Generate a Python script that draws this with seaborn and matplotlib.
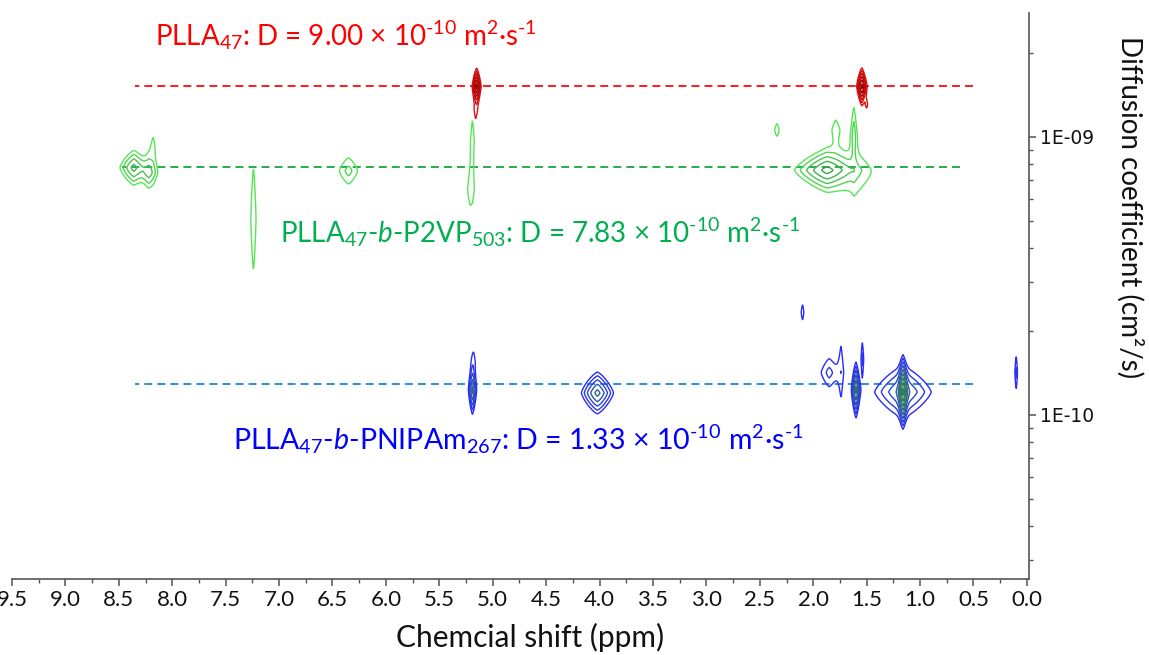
import numpy as np
import pandas as pd
import matplotlib
matplotlib.use("Agg")
import matplotlib.pyplot as plt
import seaborn as sns
from matplotlib.colors import LinearSegmentedColormap
from matplotlib.ticker import MultipleLocator, LogLocator, NullFormatter

# ---- peak tables (chemical shift in ppm, diffusion coefficient in cm^2/s,
#      half-width of the outermost contour in ppm / in decades, contour rings)
plla_ppm = [5.15, 5.16, 1.545, 1.50]
plla_D = [1.52e-9, 1.25e-9, 1.52e-9, 1.31e-9]
plla_wx = [0.040, 0.012, 0.048, 0.008]
plla_wy = [0.063, 0.030, 0.067, 0.012]
plla_rings = [6, 1, 6, 1]

p2vp_ppm = [8.36, 8.22, 8.18, 7.24, 6.35, 5.19, 5.21, 2.34, 1.79, 1.62, 1.87, 1.60]
p2vp_D = [7.75e-10, 7.45e-10, 9.13e-10, 5.07e-10, 7.55e-10, 9.68e-10, 6.45e-10,
          1.06e-9, 1.06e-9, 1.01e-9, 7.60e-10, 7.30e-10]
p2vp_wx = [0.13, 0.07, 0.015, 0.024, 0.085, 0.014, 0.014, 0.02, 0.02, 0.02, 0.30, 0.08]
p2vp_wy = [0.062, 0.050, 0.035, 0.183, 0.047, 0.068, 0.027, 0.022, 0.022, 0.083, 0.072, 0.050]
p2vp_rings = [4, 3, 1, 1, 2, 1, 1, 1, 1, 2, 5, 1]

pnipam_ppm = [5.19, 5.18, 4.02, 2.10, 1.85, 1.74, 1.60, 1.54, 1.16, 1.16, 0.10]
pnipam_D = [1.23e-10, 1.55e-10, 1.20e-10, 2.34e-10, 1.42e-10, 1.45e-10, 1.23e-10,
            1.59e-10, 1.21e-10, 1.21e-10, 1.42e-10]
pnipam_wx = [0.037, 0.012, 0.150, 0.012, 0.075, 0.010, 0.042, 0.012, 0.265, 0.058, 0.012]
pnipam_wy = [0.085, 0.030, 0.075, 0.027, 0.050, 0.068, 0.100, 0.058, 0.092, 0.128, 0.058]
pnipam_rings = [5, 1, 5, 1, 2, 1, 6, 2, 4, 9, 2]

# ---- reference lines (diffusion coefficient, ppm range)
line_names = ["PLLA", "PLLA-b-P2VP", "PLLA-b-PNIPAm"]
line_D = [1.52e-9, 7.83e-10, 1.29e-10]
line_start = [8.35, 8.47, 8.35]
line_end = [0.50, 0.63, 0.50]

# ---- axis ticks
x_major = np.arange(0.0, 9.51, 0.5)
y_ticks = [1e-10, 1e-9]
y_tick_labels = ["1E-10", "1E-09"]

sns.set_theme(style="white")
plt.rcParams["font.family"] = ["Lato", "DejaVu Sans"]
plt.rcParams["mathtext.fontset"] = "custom"
plt.rcParams["mathtext.rm"] = "Lato"
plt.rcParams["mathtext.it"] = "Lato:italic"
plt.rcParams["mathtext.bf"] = "Lato:bold"

W, H = 1149, 655
fig = plt.figure(figsize=(W / 100, H / 100), dpi=100)
ax = fig.add_axes([12 / W, (H - 579) / H, (1029 - 12) / W, (579 - 13) / H])
ax.set_yscale("log")
ax.set_xlim(9.5, -0.02)
ax.set_ylim(10 ** -10.590, 10 ** -8.554)

# ---- 2D spectrum on a (ppm, log D) grid
gx = np.linspace(9.5, -0.02, 2400)
gy = np.linspace(-10.59, -8.554, 1100)
PP, LL = np.meshgrid(gx, gy)
SHAPE = 1.3
RATIO = 1.8
levels = RATIO ** np.arange(0, 10)


def spectrum(ppm, D, wx, wy, rings):
    z = np.zeros_like(PP)
    for c, d, hx, hy, n in zip(ppm, D, wx, wy, rings):
        amp = 1.25 * RATIO ** (n - 1)
        r = np.log(amp) ** (1 / SHAPE)
        u = np.abs(PP - c) / (hx / r)
        v = np.abs(LL - np.log10(d)) / (hy / r)
        z += amp * np.exp(-(u ** SHAPE + v ** SHAPE))
    return z


species = [
    (plla_ppm, plla_D, plla_wx, plla_wy, plla_rings, ["#e01010", "#8a0000"]),
    (p2vp_ppm, p2vp_D, p2vp_wx, p2vp_wy, p2vp_rings, ["#55e655", "#2f7f3f"]),
    (pnipam_ppm, pnipam_D, pnipam_wx, pnipam_wy, pnipam_rings, ["#2a2aff", "#2f7f5f"]),
]
for ppm, D, wx, wy, rings, cols in species:
    z = spectrum(ppm, D, wx, wy, rings)
    cmap = LinearSegmentedColormap.from_list("ring", cols)
    ring_cols = [cmap(t) for t in np.linspace(0, 1, 7)] + [cmap(1.0)] * 3
    ax.contour(PP, 10 ** LL, z, levels=levels, colors=ring_cols, linewidths=1.0)

# ---- dashed reference lines
line_cols = ["#ff1a1a", "#22b04b", "#2a8fe0"]
for name, d, x0, x1, c in zip(line_names, line_D, line_start, line_end, line_cols):
    seg = pd.DataFrame({"ppm": [x0, x1], "D": [d, d]})
    sns.lineplot(data=seg, x="ppm", y="D", ax=ax, color=c, lw=1.4,
                 dashes=False, linestyle=(0, (4.1, 2.6)), zorder=1)

# ---- axes styling
for s in ["left", "top"]:
    ax.spines[s].set_visible(False)
for s in ["bottom", "right"]:
    ax.spines[s].set_color("#555555")
    ax.spines[s].set_linewidth(1.2)
ax.yaxis.tick_right()
ax.set_xlabel("")
ax.set_ylabel("")
ax.xaxis.set_minor_locator(MultipleLocator(0.25))
ax.set_xticks(x_major)
ax.set_xticklabels([f"{v:.1f}" for v in x_major], fontsize=16, color="#111111")
ax.set_yticks(y_ticks)
ax.set_yticklabels(y_tick_labels, fontfamily="DejaVu Sans", fontsize=13.5, color="#111111")
ax.yaxis.set_minor_locator(LogLocator(base=10, subs=np.arange(2, 10)))
ax.yaxis.set_minor_formatter(NullFormatter())
ax.tick_params(axis="both", which="major", direction="out", length=5, width=1.1,
               color="#555555", pad=3)
ax.tick_params(axis="both", which="minor", direction="out", length=3, width=1.0,
               color="#555555")
ax.tick_params(axis="y", which="both", left=False, right=True)
ax.tick_params(axis="x", which="both", bottom=True, top=False)
ax.grid(False)

fig.text(530 / W, 1 - 647 / H, "Chemcial shift (ppm)", fontsize=21.5, ha="center",
         va="baseline", color="#111111")
fig.text(1130 / W, 1 - 207 / H, "Diffusion coefficient (cm²/s)", fontsize=20,
         rotation=270, ha="center", va="center", color="#111111")

# ---- annotations
fig.text(155 / W, 1 - 45 / H,
         r"PLLA$_{47}$: D = 9.00 × 10$^{\text{-10}}$ m$^{2}$·s$^{\text{-1}}$",
         fontsize=20, color="#ff0000", va="baseline")
fig.text(280 / W, 1 - 243 / H,
         r"PLLA$_{47}$-$\mathit{b}$-P2VP$_{503}$: D = 7.83 × 10$^{\text{-10}}$ m$^{2}$·s$^{\text{-1}}$",
         fontsize=20, color="#00b050", va="baseline")
fig.text(233 / W, 1 - 449 / H,
         r"PLLA$_{47}$-$\mathit{b}$-PNIPAm$_{267}$: D = 1.33 × 10$^{\text{-10}}$ m$^{2}$·s$^{\text{-1}}$",
         fontsize=20.5, color="#0000ff", va="baseline")

fig.savefig("out.png", dpi=100, facecolor="white")
